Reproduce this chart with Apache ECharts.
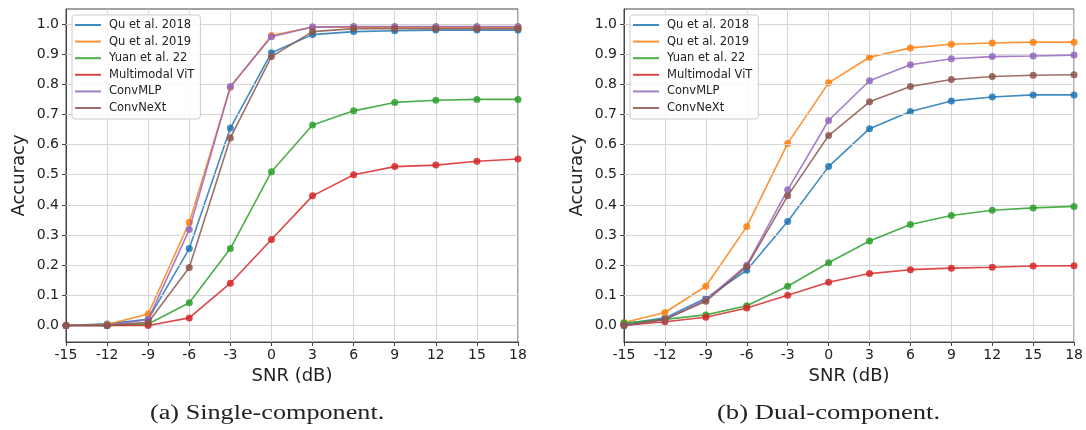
<!DOCTYPE html>
<html><head><meta charset="utf-8">
<script src="https://cdn.jsdelivr.net/npm/echarts@6/dist/echarts.min.js"></script>
<style>html,body{margin:0;padding:0;background:#fff}#c{width:1086px;height:430px}</style>
</head><body><div id="c"></div>
<script>
const snr = [-15,-12,-9,-6,-3,0,3,6,9,12,15,18];
const yTicks = [0,0.1,0.2,0.3,0.4,0.5,0.6,0.7,0.8,0.9,1.0];
const seriesNames = ['Qu et al. 2018','Qu et al. 2019','Yuan et al. 22','Multimodal ViT','ConvMLP','ConvNeXt'];
const colors = ['#1f77b4','#ff7f0e','#2ca02c','#d62728','#9467bd','#8c564b'];
const captions = ['(a) Single-component.','(b) Dual-component.'];
// (a) Single-component
const singleQu2018   = [0,0.005,0.02,0.255,0.655,0.905,0.965,0.975,0.978,0.98,0.98,0.98];
const singleQu2019   = [0,0.003,0.038,0.342,0.79,0.962,0.99,0.99,0.99,0.99,0.99,0.99];
const singleYuan     = [0,0,0.005,0.075,0.255,0.51,0.665,0.712,0.74,0.747,0.75,0.75];
const singleViT      = [0,0,0,0.025,0.14,0.285,0.43,0.5,0.527,0.532,0.545,0.552];
const singleConvMLP  = [0,0,0.02,0.318,0.793,0.958,0.99,0.992,0.992,0.992,0.992,0.992];
const singleConvNeXt = [0,0,0.01,0.192,0.622,0.892,0.975,0.985,0.985,0.985,0.985,0.985];
// (b) Dual-component
const dualQu2018   = [0.005,0.025,0.09,0.183,0.345,0.527,0.653,0.71,0.745,0.758,0.765,0.765];
const dualQu2019   = [0.01,0.043,0.13,0.328,0.604,0.805,0.89,0.921,0.933,0.937,0.94,0.94];
const dualYuan     = [0.008,0.02,0.035,0.065,0.13,0.208,0.28,0.335,0.365,0.382,0.39,0.395];
const dualViT      = [0,0.012,0.027,0.058,0.1,0.143,0.172,0.185,0.19,0.193,0.197,0.198];
const dualConvMLP  = [0,0.02,0.085,0.2,0.45,0.68,0.812,0.865,0.885,0.892,0.894,0.897];
const dualConvNeXt = [0,0.02,0.08,0.195,0.43,0.63,0.742,0.793,0.816,0.826,0.83,0.832];

const singleData = [singleQu2018,singleQu2019,singleYuan,singleViT,singleConvMLP,singleConvNeXt];
const dualData = [dualQu2018,dualQu2019,dualYuan,dualViT,dualConvMLP,dualConvNeXt];

const font = 'DejaVu Sans';
function xAxis(gi){
  return {type:'value', gridIndex:gi, min:-15, max:18, interval:3,
    name:'SNR (dB)', nameLocation:'middle', nameGap:24,
    nameTextStyle:{fontFamily:font, fontSize:18, color:'#222'},
    axisLine:{show:true, onZero:false, lineStyle:{color:'#444', width:1}},
    axisTick:{show:true, length:4, lineStyle:{color:'#444'}},
    axisLabel:{fontFamily:font, fontSize:14, color:'#222', margin:6},
    splitLine:{show:true, lineStyle:{color:'#d6d6d6', width:1}}};
}
function yAxis(gi){
  return {type:'value', gridIndex:gi, min:-0.055, max:1.05,
    name:'Accuracy', nameLocation:'middle', nameGap:38,
    nameTextStyle:{fontFamily:font, fontSize:18, color:'#222'},
    axisLine:{show:true, onZero:false, lineStyle:{color:'#444', width:1}},
    axisTick:{show:true, length:4, customValues:yTicks, lineStyle:{color:'#444'}},
    axisLabel:{fontFamily:font, fontSize:14, color:'#222', margin:7, customValues:yTicks,
      formatter:v=>v.toFixed(1)},
    splitLine:{show:false}};
}
function gridLines(gi){
  return {type:'line', xAxisIndex:gi, yAxisIndex:gi, data:[], silent:true, z:1,
    markLine:{silent:true, symbol:'none', label:{show:false},
      lineStyle:{color:'#d6d6d6', type:'solid', width:1},
      data: yTicks.map(v=>({yAxis:v}))}};
}
const series = [gridLines(0), gridLines(1)];
[singleData, dualData].forEach((set,gi)=>{
  set.forEach((arr,i)=>{
    series.push({type:'line', name:seriesNames[i], xAxisIndex:gi, yAxisIndex:gi,
      data: snr.map((x,k)=>[x,arr[k]]), symbol:'circle', symbolSize:7,
      color:colors[i], lineStyle:{width:1.6, color:colors[i], opacity:0.85},
      itemStyle:{color:colors[i], opacity:0.85}, z:3+i});
  });
});
function legend(left){
  return {data:seriesNames, orient:'vertical', left:left, top:15, icon:'rect', z:20,
    itemWidth:26, itemHeight:2, itemGap:4.6, padding:[4,6,5,3],
    backgroundColor:'rgba(255,255,255,0.85)', borderColor:'#ccc', borderWidth:1, borderRadius:3,
    textStyle:{fontFamily:font, fontSize:11.5, lineHeight:12, color:'#222', padding:[0,0,0,3]},
    selectedMode:false};
}
const chart = echarts.init(document.getElementById('c'), null, {renderer:'canvas'});
chart.setOption({
  animation:false,
  grid:[{left:66, right:568, top:9, bottom:88, show:true, borderColor:'#444', borderWidth:1},
        {left:624, right:10, top:9, bottom:88, show:true, borderColor:'#444', borderWidth:1}],
  xAxis:[xAxis(0), xAxis(1)],
  yAxis:[yAxis(0), yAxis(1)],
  legend:[legend(72), legend(630)],
  series: series,
  graphic:[
    {type:'text', x:150, y:404, scaleX:1.31, style:{text:captions[0], font:'20px "Liberation Serif"', fill:'#222', verticalAlign:'top'}},
    {type:'text', x:717, y:404, scaleX:1.33, style:{text:captions[1], font:'20px "Liberation Serif"', fill:'#222', verticalAlign:'top'}}
  ]
});
</script></body></html>
